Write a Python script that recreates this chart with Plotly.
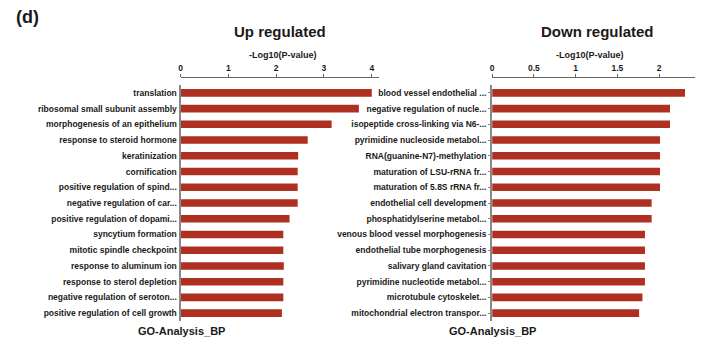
import plotly.graph_objects as go

up_terms = [
    "translation", "ribosomal small subunit assembly", "morphogenesis of an epithelium",
    "response to steroid hormone", "keratinization", "cornification",
    "positive regulation of spind...", "negative regulation of car...",
    "positive regulation of dopami...", "syncytium formation", "mitotic spindle checkpoint",
    "response to aluminum ion", "response to sterol depletion",
    "negative regulation of seroton...", "positive regulation of cell growth",
]
up_values = [4.00, 3.73, 3.16, 2.66, 2.46, 2.45, 2.45, 2.45, 2.28, 2.15, 2.15, 2.16, 2.15, 2.15, 2.12]

down_terms = [
    "blood vessel endothelial ...", "negative regulation of nucle...",
    "isopeptide cross-linking via N6-...", "pyrimidine nucleoside metabol...",
    "RNA(guanine-N7)-methylation", "maturation of LSU-rRNA fr...",
    "maturation of 5.8S rRNA fr...", "endothelial cell development",
    "phosphatidylserine metabol...", "venous blood vessel morphogenesis",
    "endothelial tube morphogenesis", "salivary gland cavitation",
    "pyrimidine nucleotide metabol...", "microtubule cytoskelet...",
    "mitochondrial electron transpor...",
]
down_values = [2.31, 2.13, 2.13, 2.01, 2.01, 2.01, 2.01, 1.91, 1.91, 1.83, 1.83, 1.83, 1.83, 1.80, 1.76]

up_ticks = [0, 1, 2, 3, 4]
down_ticks = [0, 0.5, 1, 1.5, 2]

W, H = 709, 361
OFF = 8  # page body margin offset
FONT = "Liberation Sans, Arial, Helvetica, sans-serif"
TXT = "#1a1a1a"
BAR = "#AD3021"
AX = "#666666"

def px(x):
    return (x - OFF) / W

def py(y):
    return 1 - (y - OFF) / H

fig = go.Figure()
fig.add_trace(go.Bar(x=up_values, y=up_terms, orientation="h", xaxis="x", yaxis="y",
                     marker=dict(color=BAR, line=dict(width=0)), width=0.48, showlegend=False))
fig.add_trace(go.Bar(x=down_values, y=down_terms, orientation="h", xaxis="x2", yaxis="y2",
                     marker=dict(color=BAR, line=dict(width=0)), width=0.48, showlegend=False))

ydom = [py(321), py(85)]
xpos = py(77)
tickfont = dict(family=FONT, size=8.5, color=TXT, weight="bold")

fig.update_layout(
    width=W, height=H, margin=dict(l=0, r=0, t=0, b=0),
    paper_bgcolor="white", plot_bgcolor="white",
    xaxis=dict(domain=[px(179), px(378)], range=[0, 4.15], side="top", anchor="free",
               position=xpos, tickvals=up_ticks, showline=True, linecolor=AX, linewidth=1,
               ticks="outside", ticklen=3, tickcolor=AX, showgrid=False, zeroline=False,
               tickfont=tickfont),
    yaxis=dict(domain=ydom, anchor="x", autorange="reversed", showline=True, linecolor="#888888",
               linewidth=2, ticks="", showgrid=False, tickfont=tickfont),
    xaxis2=dict(domain=[px(491.5), px(695)], range=[0, 2.43], side="top", anchor="free",
                position=xpos, tickvals=down_ticks, ticktext=["0", "0.5", "1", "1.5", "2"],
                showline=True, linecolor=AX, linewidth=1, ticks="outside", ticklen=3,
                tickcolor=AX, showgrid=False, zeroline=False, tickfont=tickfont),
    yaxis2=dict(domain=ydom, anchor="x2", autorange="reversed", showline=True, linecolor="#888888",
                linewidth=2, ticks="outside", ticklen=2, tickcolor="#888888", showgrid=False,
                tickfont=tickfont),
)

ann = [
    dict(text="(d)", x=px(12), y=py(17), xanchor="left", size=18),
    dict(text="Up regulated", x=px(279), y=py(31), xanchor="center", size=15),
    dict(text="Down regulated", x=px(597), y=py(31), xanchor="center", size=15),
    dict(text="-Log10(P-value)", x=px(282), y=py(55), xanchor="center", size=9),
    dict(text="-Log10(P-value)", x=px(590), y=py(55), xanchor="center", size=9),
    dict(text="GO-Analysis_BP", x=px(180), y=py(331), xanchor="center", size=11),
    dict(text="GO-Analysis_BP", x=px(492), y=py(331), xanchor="center", size=11),
]
for a in ann:
    fig.add_annotation(text=a["text"], x=a["x"], y=a["y"], xref="paper", yref="paper",
                       xanchor=a["xanchor"], yanchor="middle", showarrow=False,
                       font=dict(family=FONT, size=a["size"], color=TXT, weight="bold"))

fig.write_html("out.html")
